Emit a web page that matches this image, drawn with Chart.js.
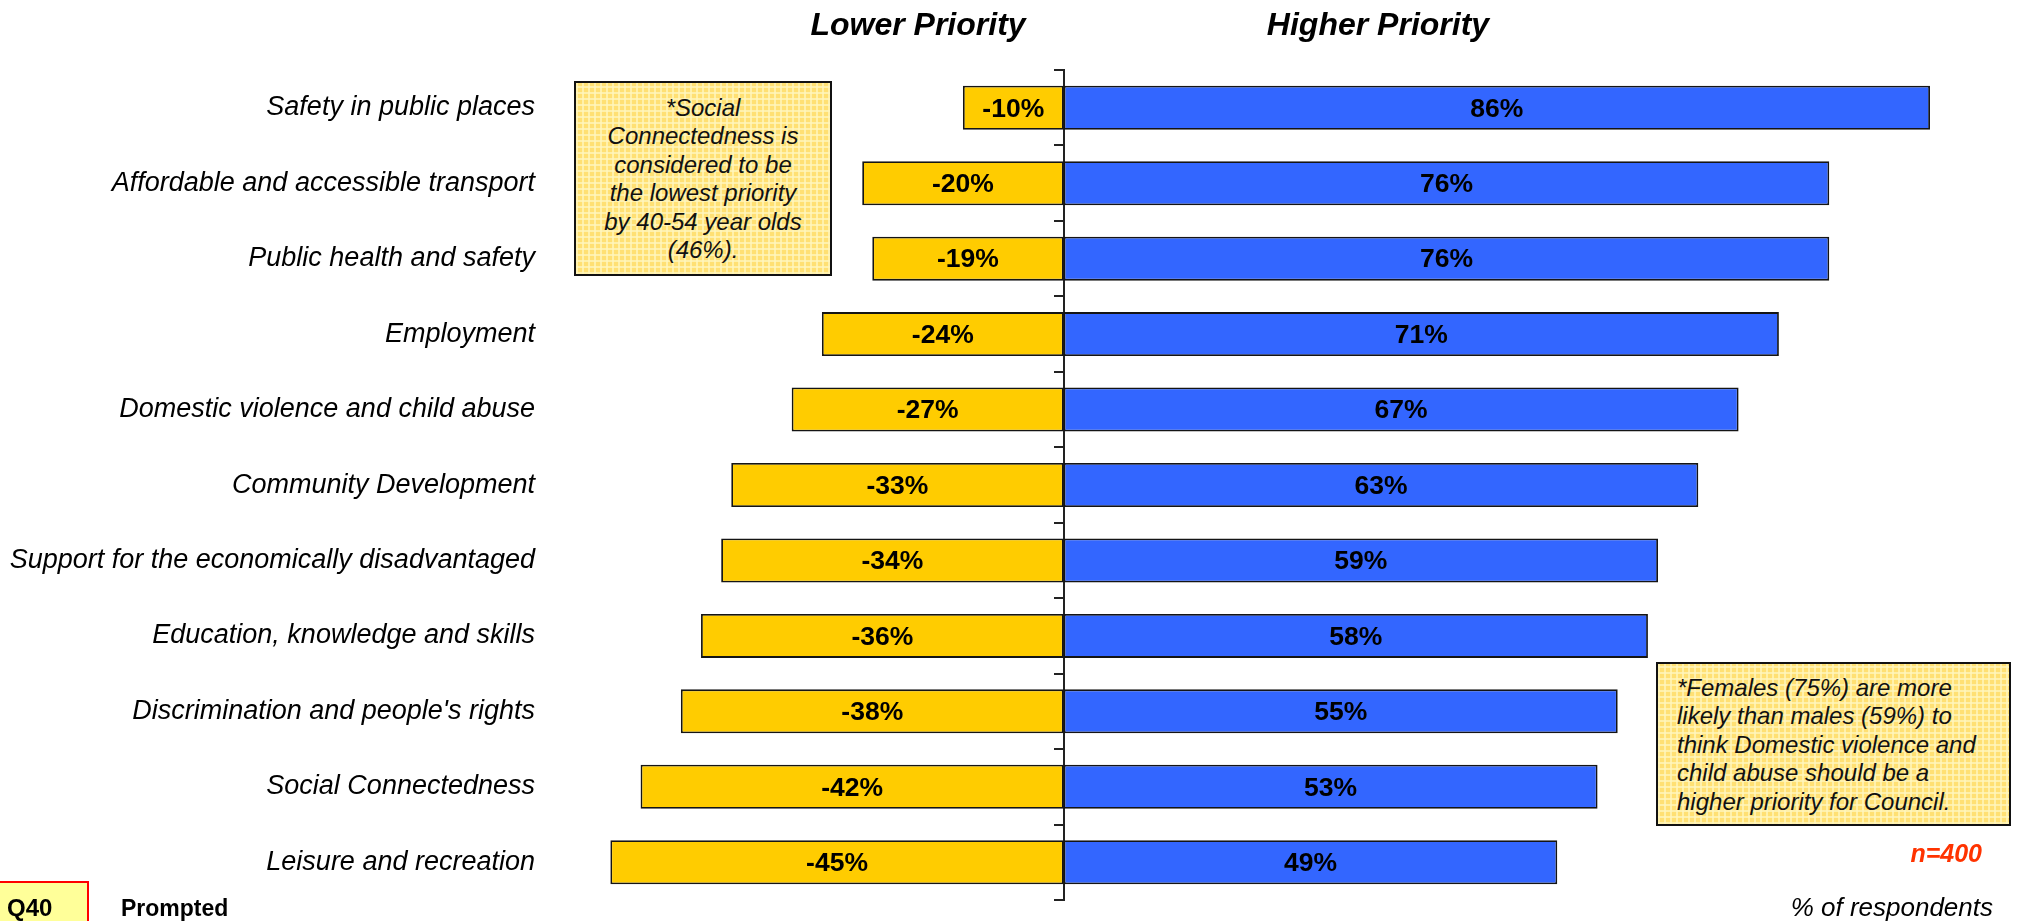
<!DOCTYPE html>
<html>
<head>
<meta charset="utf-8">
<script src="https://cdn.jsdelivr.net/npm/chart.js@4"></script>
<style>
  body { margin: 0; background: #fff; }
  #wrap { position: relative; width: 2017px; height: 921px; overflow: hidden; font-family: "Liberation Sans", Arial, sans-serif; background: #fff; }
  #chart { position: absolute; left: 0; top: 0; }
  .t { position: absolute; white-space: nowrap; color: #000; }
  .note { position: absolute; box-sizing: border-box; border: 2px solid #111; color: #111;
    background-color: #FFE073;
    background-image: repeating-linear-gradient(0deg, rgba(255,246,190,0.75) 0px, rgba(255,246,190,0.75) 2px, transparent 2px, transparent 6px),
                      repeating-linear-gradient(90deg, rgba(255,246,190,0.75) 0px, rgba(255,246,190,0.75) 2px, transparent 2px, transparent 6px);
    font-style: italic; font-size: 24px; line-height: 28.4px; white-space: nowrap; }
</style>
</head>
<body>
<div id="wrap">
  <canvas id="chart" width="2017" height="921"></canvas>

  <div class="t" style="left:718px; width:400px; top:6px; text-align:center; font-weight:bold; font-style:italic; font-size:32px; line-height:36px;">Lower Priority</div>
  <div class="t" style="left:1178px; width:400px; top:6px; text-align:center; font-weight:bold; font-style:italic; font-size:32px; line-height:36px;">Higher Priority</div>

  <div class="note" style="left:574px; top:81px; width:258px; height:195px; text-align:center; padding-top:11px;">*Social<br>Connectedness is<br>considered to be<br>the lowest priority<br>by 40-54 year olds<br>(46%).</div>

  <div class="note" style="left:1656px; top:662px; width:355px; height:164px; text-align:left; padding-left:19px; padding-top:10px;">*Females (75%) are more<br>likely than males (59%) to<br>think Domestic violence and<br>child abuse should be a<br>higher priority for Council.</div>

  <div class="t" style="right:35px; top:838px; font-weight:bold; font-style:italic; font-size:25px; line-height:30px; color:#FF3300;">n=400</div>
  <div class="t" style="right:24px; top:892px; font-style:italic; font-size:26px; line-height:30px;">% of respondents</div>

  <div style="position:absolute; left:-2px; top:881px; width:91px; height:50px; box-sizing:border-box; border:2px solid #FF0000; background:#FFFF99;"></div>
  <div class="t" style="left:7px; top:894px; font-weight:bold; font-size:24px; line-height:28px;">Q40</div>
  <div class="t" style="left:121px; top:894px; font-weight:bold; font-size:23px; line-height:28px;">Prompted</div>
</div>

<script>
const categories = [
  "Safety in public places",
  "Affordable and accessible transport",
  "Public health and safety",
  "Employment",
  "Domestic violence and child abuse",
  "Community Development",
  "Support for the economically disadvantaged",
  "Education, knowledge and skills",
  "Discrimination and people's rights",
  "Social Connectedness",
  "Leisure and recreation"
];
const lowerPriority  = [-10, -20, -19, -24, -27, -33, -34, -36, -38, -42, -45];
const higherPriority = [86, 76, 76, 71, 67, 63, 59, 58, 55, 53, 49];
const seriesNames = ["Lower Priority", "Higher Priority"];

const FONT = '"Liberation Sans", Arial, sans-serif';

const barLabels = {
  id: 'barLabels',
  afterDatasetsDraw(chart) {
    const ctx = chart.ctx;
    ctx.save();
    ctx.font = 'bold 26.5px ' + FONT;
    ctx.fillStyle = '#000';
    ctx.textAlign = 'center';
    ctx.textBaseline = 'middle';
    chart.data.datasets.forEach((ds, i) => {
      const meta = chart.getDatasetMeta(i);
      meta.data.forEach((el, j) => {
        const p = el.getProps(['x', 'y', 'base'], true);
        ctx.fillText(ds.data[j] + '%', (p.x + p.base) / 2, p.y + 1.5);
      });
    });
    ctx.restore();
  }
};

new Chart(document.getElementById('chart'), {
  type: 'bar',
  data: {
    labels: categories,
    datasets: [
      { label: seriesNames[0], data: lowerPriority, backgroundColor: '#FFCC00', borderColor: '#141414', borderWidth: 1.8, borderSkipped: false, yAxisID: 'y' },
      { label: seriesNames[1], data: higherPriority, backgroundColor: '#3366FF', borderColor: '#141414', borderWidth: 1.8, borderSkipped: false, yAxisID: 'y' }
    ]
  },
  options: {
    indexAxis: 'y',
    responsive: false,
    animation: false,
    layout: { padding: { left: 0, right: 16.5, top: 70, bottom: 21 } },
    plugins: { legend: { display: false }, tooltip: { enabled: false }, title: { display: false } },
    datasets: { bar: { categoryPercentage: 1, barPercentage: 0.583 } },
    scales: {
      x: { type: 'linear', min: -50, max: 93, stacked: true, display: false },
      y: {
        type: 'category', position: 'left', stacked: true, offset: true,
        grid: { display: false, drawTicks: false },
        border: { display: false },
        ticks: { padding: 25, color: '#000', font: { family: FONT, size: 27, style: 'italic' } },
        afterFit(s) { s.width = 560; s.paddingTop = 0; s.paddingBottom = 0; }
      },
      y2: {
        type: 'category', axis: 'y', position: { x: 0 }, offset: true, z: 1,
        grid: { offset: true, drawOnChartArea: false, drawTicks: true, tickLength: 9, color: '#222', lineWidth: 2 },
        border: { display: true, color: '#222', width: 2 },
        ticks: { display: false },
        afterFit(s) { s.paddingTop = 0; s.paddingBottom = 0; }
      }
    }
  },
  plugins: [barLabels]
});
</script>
</body>
</html>
